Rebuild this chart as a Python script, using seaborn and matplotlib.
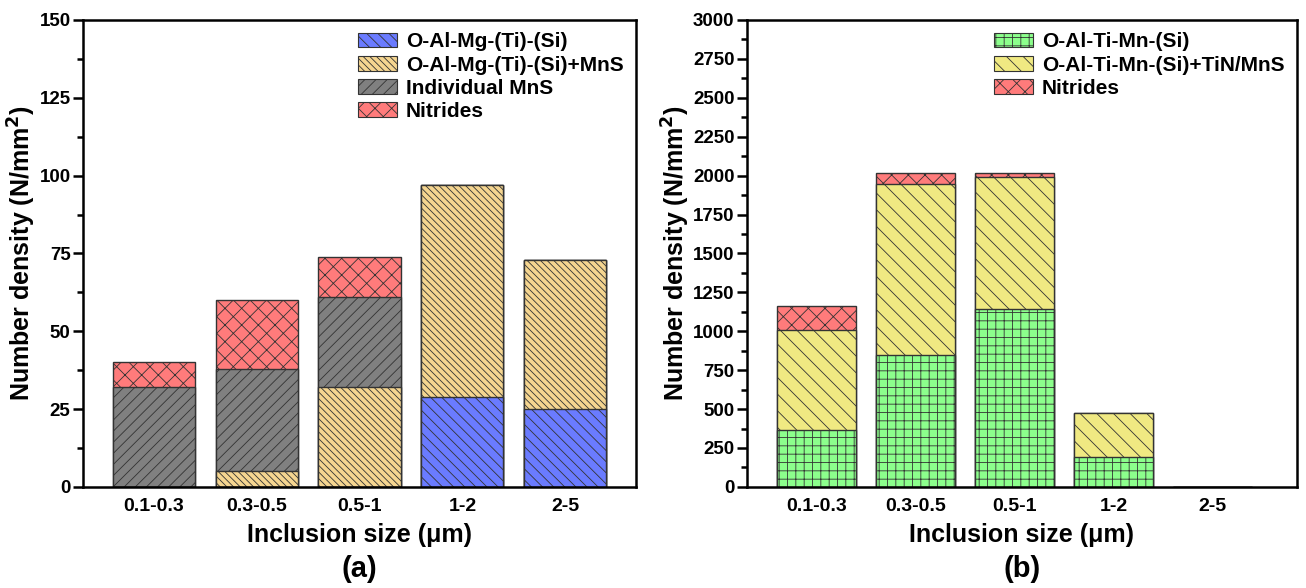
import numpy as np
import pandas as pd
import matplotlib
matplotlib.use("Agg")
import matplotlib.pyplot as plt
import seaborn as sns
from matplotlib.patches import Patch
from matplotlib.ticker import MultipleLocator

sizes = ["0.1-0.3", "0.3-0.5", "0.5-1", "1-2", "2-5"]

# panel (a)
a_labels = ["O-Al-Mg-(Ti)-(Si)", "O-Al-Mg-(Ti)-(Si)+MnS", "Individual MnS", "Nitrides"]
a_oalmg = [0, 0, 0, 29, 25]
a_oalmg_mns = [0, 5, 32, 68, 48]
a_mns = [32, 33, 29, 0, 0]
a_nitrides = [8, 22, 13, 0, 0]
a_colors = ["#6a7bff", "#f5d590", "#808080", "#ff7b7b"]
a_hatches = ["\\\\\\", "\\\\\\\\\\", "///", "xx"]

# panel (b)
b_labels = ["O-Al-Ti-Mn-(Si)", "O-Al-Ti-Mn-(Si)+TiN/MnS", "Nitrides"]
b_oaltimn = [365, 850, 1140, 195, 0]
b_oaltimn_tin = [640, 1095, 850, 277, 0]
b_nitrides = [158, 73, 30, 0, 0]
b_colors = ["#8cff8c", "#f0e982", "#ff7b7b"]
b_hatches = ["++", "\\\\", "xx"]

sns.set_theme(style="white")
plt.rcParams["font.family"] = ["Liberation Sans", "DejaVu Sans"]
plt.rcParams["font.weight"] = "bold"
plt.rcParams["hatch.linewidth"] = 0.6
for k in ["text.color", "axes.labelcolor", "xtick.color", "ytick.color"]:
    plt.rcParams[k] = "black"


def stacked(ax, series, labels, colors, hatches):
    cum = np.cumsum(np.array(series), axis=0)
    # draw from the top layer down so lower layers cover upper ones
    for i in range(len(series) - 1, -1, -1):
        df = pd.DataFrame({"size": sizes, "val": cum[i]})
        sns.barplot(data=df, x="size", y="val", ax=ax, color=colors[i],
                    width=0.8, saturation=1, edgecolor="#333333",
                    linewidth=1.0, hatch=hatches[i])
    handles = [Patch(facecolor=c, edgecolor="#333333", hatch=h, label=l, linewidth=0.8)
               for c, h, l in zip(colors, hatches, labels)]
    ax.legend(handles=handles, loc="upper right", frameon=False,
              prop={"weight": "bold", "size": 15}, handlelength=1.9,
              handleheight=0.7, labelspacing=0.2, handletextpad=0.4,
              borderaxespad=0.2)
    for s in ax.spines.values():
        s.set_color("black")
        s.set_linewidth(1.8)
    ax.set_xlabel("Inclusion size (\u03bcm)", fontsize=18, fontweight="bold",
                  labelpad=6)
    ax.set_ylabel("Number density (N/mm$^\\mathbf{2}$)", fontsize=18,
                  fontweight="bold", labelpad=1)
    ax.tick_params(axis="y", which="both", left=True, direction="out",
                   width=1.8, color="black", labelsize=13.5, pad=2)
    ax.tick_params(axis="y", which="major", length=7)
    ax.tick_params(axis="y", which="minor", length=4)
    ax.tick_params(axis="x", bottom=False, labelsize=14, pad=2)


fig = plt.figure(figsize=(13.06, 5.88), dpi=100)
ax1 = fig.add_axes([0.0636, 0.172, 0.4234, 0.794])
ax2 = fig.add_axes([0.572, 0.172, 0.421, 0.794])

stacked(ax1, [a_oalmg, a_oalmg_mns, a_mns, a_nitrides], a_labels, a_colors, a_hatches)
ax1.set_ylim(0, 150)
ax1.set_xlim(-0.69, 4.69)
ax1.yaxis.set_major_locator(MultipleLocator(25))
ax1.yaxis.set_minor_locator(MultipleLocator(12.5))

stacked(ax2, [b_oaltimn, b_oaltimn_tin, b_nitrides], b_labels, b_colors, b_hatches)
ax2.set_ylim(0, 3000)
ax2.set_xlim(-0.7, 4.85)
ax2.yaxis.set_major_locator(MultipleLocator(250))
ax2.yaxis.set_minor_locator(MultipleLocator(125))

for ax in (ax1, ax2):
    for t in ax.get_xticklabels() + ax.get_yticklabels():
        t.set_fontweight("bold")

fig.text(0.2753, 0.018, "(a)", ha="center", fontsize=21, fontweight="bold")
fig.text(0.7825, 0.018, "(b)", ha="center", fontsize=21, fontweight="bold")

fig.savefig("out.png", dpi=100)
